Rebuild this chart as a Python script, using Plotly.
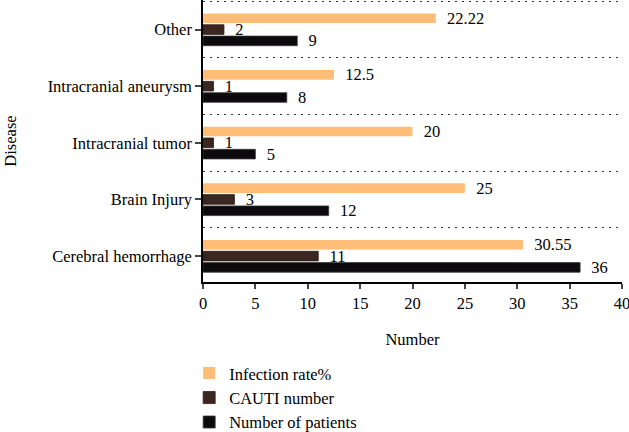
import plotly.graph_objects as go

categories = ["Cerebral hemorrhage", "Brain Injury", "Intracranial tumor", "Intracranial aneurysm", "Other"]
infection_rate = [30.55, 25, 20, 12.5, 22.22]
cauti_number = [11, 3, 1, 1, 2]
num_patients = [36, 12, 5, 8, 9]
infection_labels = ["30.55", "25", "20", "12.5", "22.22"]
x_ticks = [0, 5, 10, 15, 20, 25, 30, 35, 40]

ypos = list(range(len(categories)))
FONT = "Liberation Serif"
FS = 16.5

def lab(v):
    return ["  " + str(s) for s in v]

fig = go.Figure()
fig.add_trace(go.Bar(y=ypos, x=num_patients, orientation="h", name="Number of patients",
                     marker=dict(color="#0c0a0c", line=dict(color="#3a3a3a", width=0.8)),
                     text=lab(num_patients), textposition="outside", cliponaxis=False,
                     textfont=dict(family=FONT, size=FS, color="black"), constraintext="none"))
fig.add_trace(go.Bar(y=ypos, x=cauti_number, orientation="h", name="CAUTI number",
                     marker=dict(color="#3b2720", line=dict(color="#2a1a15", width=0.8)),
                     text=lab(cauti_number), textposition="outside", cliponaxis=False,
                     textfont=dict(family=FONT, size=FS, color="black"), constraintext="none"))
fig.add_trace(go.Bar(y=ypos, x=infection_rate, orientation="h", name="Infection rate%",
                     marker=dict(color="#ffbd78", line=dict(color="#ffbd78", width=0)),
                     text=lab(infection_labels), textposition="outside", cliponaxis=False,
                     textfont=dict(family=FONT, size=FS, color="black"), constraintext="none"))

fig.update_layout(
    width=629, height=432,
    margin=dict(l=203, r=7, t=0, b=150, autoexpand=False),
    paper_bgcolor="white", plot_bgcolor="white",
    barmode="group", bargap=0.4, bargroupgap=0.15,
    font=dict(family=FONT, size=FS, color="black"),
    legend=dict(x=-0.033, y=-0.262, xanchor="left", yanchor="top", traceorder="reversed",
                font=dict(family=FONT, size=FS), bgcolor="rgba(0,0,0,0)", tracegroupgap=0),
    xaxis=dict(range=[0, 40], tickvals=x_ticks, ticks="outside", ticklen=5, tickwidth=1.5,
               showline=True, linecolor="black", linewidth=1.5, showgrid=False, zeroline=False,
               automargin=False, ticklabeloverflow="allow", tickfont=dict(family=FONT, size=FS),
               title=dict(text="Number", font=dict(family=FONT, size=FS), standoff=22)),
    yaxis=dict(range=[-0.458, 4.522], tickvals=ypos, ticktext=categories, ticks="outside",
               ticklen=6, tickwidth=1.5, showline=True, linecolor="black", linewidth=1.5,
               showgrid=False, zeroline=False, automargin=False, tickfont=dict(family=FONT, size=FS),
               minor=dict(tickvals=[0.5, 1.5, 2.5, 3.5, 4.5], showgrid=True, griddash="2px,5px",
                          gridcolor="#333333", gridwidth=1.2, ticks=""),
               title=dict(text="Disease", font=dict(family=FONT, size=FS), standoff=27)),
)

fig.write_html("out.html", config={"displayModeBar": False},
               post_script="document.body.style.margin='0';document.body.style.overflow='hidden';")
